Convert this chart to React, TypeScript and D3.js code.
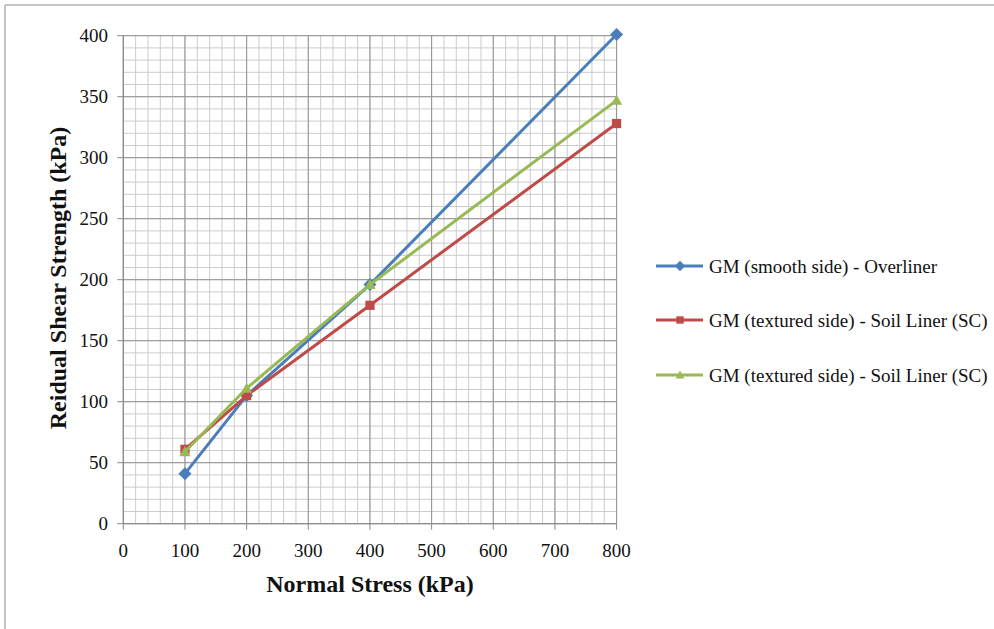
import React from "react";
import * as d3 from "d3";

// Normal stress levels (kPa)
const stress = [100, 200, 400, 800];
// Residual shear strength (kPa) per interface
const smoothOverliner = [41, 105, 196, 401];
const texturedSoilLinerA = [61, 105, 179, 328];
const texturedSoilLinerB = [59, 111, 196, 347];

const seriesNames = [
  "GM (smooth side) - Overliner",
  "GM (textured side) - Soil Liner (SC)",
  "GM (textured side) - Soil Liner (SC)",
];
const seriesColors = ["#4a7ebb", "#be4b48", "#98b954"];
const seriesMarkers = ["diamond", "square", "triangle"];

const xTicks = [0, 100, 200, 300, 400, 500, 600, 700, 800];
const yTicks = [0, 50, 100, 150, 200, 250, 300, 350, 400];

const W = 994;
const H = 629;
const FONT = "'Liberation Serif', 'Times New Roman', serif";

function marker(kind: string, x: number, y: number, color: string, key?: string, scale = 1) {
  if (kind === "diamond") {
    const s = 6.5 * scale;
    return (
      <path key={key} d={`M${x},${y - s}L${x + s},${y}L${x},${y + s}L${x - s},${y}Z`} fill={color} />
    );
  }
  if (kind === "square") {
    const s = 4.6 * scale;
    return <rect key={key} x={x - s} y={y - s} width={2 * s} height={2 * s} fill={color} />;
  }
  const s = 5.6 * scale;
  return (
    <path key={key} d={`M${x},${y - s}L${x + s},${y + s * 0.8}L${x - s},${y + s * 0.8}Z`} fill={color} />
  );
}

export default function App() {
  const x = d3.scaleLinear().domain([0, 800]).range([123.3, 616.6]);
  const y = d3.scaleLinear().domain([0, 400]).range([523.7, 35.7]);

  const minorX = d3.range(0, 801, 20);
  const minorY = d3.range(0, 401, 10);

  const series = [smoothOverliner, texturedSoilLinerA, texturedSoilLinerB];
  const line = d3
    .line<number>()
    .x((_, i) => x(stress[i]))
    .y((d) => y(d));

  const legendY = [266, 320, 375];

  return (
    <svg
      width={W}
      height={H}
      style={{ position: "absolute", left: 0, top: 0, background: "#fff" }}
      fontFamily={FONT}
    >
      {/* outer frame */}
      <line x1={5} y1={5} x2={W} y2={5} stroke="#b0b0b0" strokeWidth={1.5} />
      <line x1={5} y1={5} x2={5} y2={H} stroke="#b0b0b0" strokeWidth={1.5} />

      {/* minor grid */}
      {minorX.map((v) => (
        <line key={"mx" + v} x1={x(v)} x2={x(v)} y1={y(0)} y2={y(400)} stroke="#cccccc" strokeWidth={1} />
      ))}
      {minorY.map((v) => (
        <line key={"my" + v} x1={x(0)} x2={x(800)} y1={y(v)} y2={y(v)} stroke="#cccccc" strokeWidth={1} />
      ))}
      {/* major grid */}
      {xTicks.map((v) => (
        <line key={"gx" + v} x1={x(v)} x2={x(v)} y1={y(0)} y2={y(400)} stroke="#939393" strokeWidth={1} />
      ))}
      {yTicks.map((v) => (
        <line key={"gy" + v} x1={x(0)} x2={x(800)} y1={y(v)} y2={y(v)} stroke="#939393" strokeWidth={1} />
      ))}

      {/* axes */}
      <line x1={x(0)} x2={x(0)} y1={y(0)} y2={y(400)} stroke="#888" strokeWidth={1} />
      <line x1={x(0)} x2={x(800)} y1={y(0)} y2={y(0)} stroke="#888" strokeWidth={1} />
      {yTicks.map((v) => (
        <g key={"yt" + v}>
          <line x1={x(0) - 6} x2={x(0)} y1={y(v)} y2={y(v)} stroke="#888" />
          <text x={108} y={y(v)} dy="0.35em" textAnchor="end" fontSize={19} fill="#111">
            {v}
          </text>
        </g>
      ))}
      {xTicks.map((v) => (
        <g key={"xt" + v}>
          <line x1={x(v)} x2={x(v)} y1={y(0)} y2={y(0) + 6} stroke="#888" />
          <text x={x(v)} y={557} textAnchor="middle" fontSize={19} fill="#111">
            {v}
          </text>
        </g>
      ))}

      {/* series */}
      {series.map((vals, si) => (
        <g key={"s" + si}>
          <path d={line(vals) || ""} fill="none" stroke={seriesColors[si]} strokeWidth={3} strokeLinejoin="round" />
          {vals.map((v, i) => marker(seriesMarkers[si], x(stress[i]), y(v), seriesColors[si], "m" + i))}
        </g>
      ))}

      {/* axis titles */}
      <text x={370} y={592} textAnchor="middle" fontSize={24} fontWeight="bold" fill="#111">
        Normal Stress (kPa)
      </text>
      <text
        transform={`translate(66,278) rotate(-90)`}
        textAnchor="middle"
        fontSize={24}
        fontWeight="bold"
        fill="#111"
      >
        Reidual Shear Strength (kPa)
      </text>

      {/* legend */}
      {seriesNames.map((name, i) => (
        <g key={"lg" + i}>
          <line x1={656} x2={703} y1={legendY[i]} y2={legendY[i]} stroke={seriesColors[i]} strokeWidth={3} />
          {marker(seriesMarkers[i], 680, legendY[i], seriesColors[i], undefined, 0.8)}
          <text x={709} y={legendY[i]} dy="0.35em" fontSize={19} fill="#111">
            {name}
          </text>
        </g>
      ))}
    </svg>
  );
}
